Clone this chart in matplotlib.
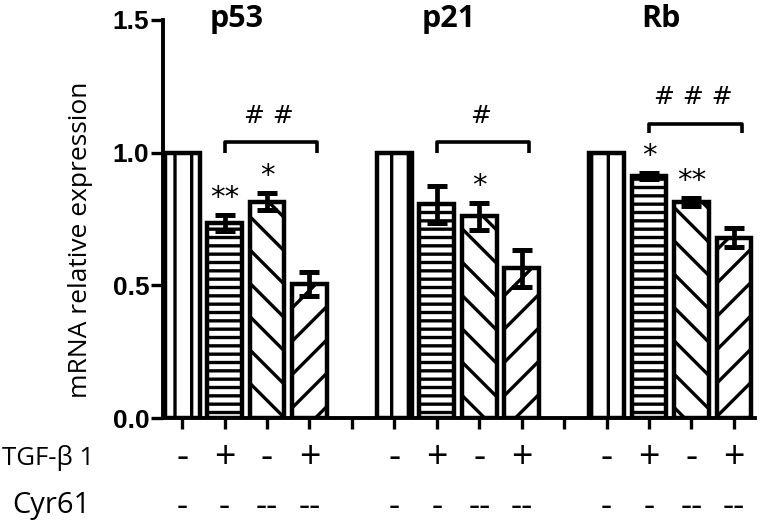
import matplotlib
matplotlib.use("Agg")
import matplotlib.pyplot as plt
from matplotlib.transforms import blended_transform_factory
import numpy as np

genes = ["p53", "p21", "Rb"]
means = {
    "p53": [1.0, 0.735, 0.815, 0.505],
    "p21": [1.0, 0.805, 0.760, 0.565],
    "Rb":  [1.0, 0.912, 0.815, 0.680],
}
errs = {
    "p53": [0.0, 0.030, 0.032, 0.045],
    "p21": [0.0, 0.068, 0.050, 0.070],
    "Rb":  [0.0, 0.012, 0.015, 0.037],
}
stars = {
    "p53": ["", "**", "*", ""],
    "p21": ["", "", "*", ""],
    "Rb":  ["", "*", "**", ""],
}
brackets = {"p53": ("# #", 1.04, 1.0), "p21": ("#", 1.04, 1.0), "Rb": ("# # #", 1.11, 1.075)}
tgf_signs = ["-", "+", "-", "+"]
cyr_signs = ["-", "-", "--", "--"]
yticks = [0.0, 0.5, 1.0, 1.5]
ytick_labels = ["0.0", "0.5", "1.0", "1.5"]
hatches = ["|", "--", "\\", "/"]

plt.rcParams["hatch.linewidth"] = 2.4
fig = plt.figure(figsize=(7.62, 5.26), dpi=100)
ax = fig.add_axes([0.214, 0.205, 0.777, 0.757])

width = 0.82
for g, gene in enumerate(genes):
    base = g * 5
    xs = base + np.arange(4)
    for i in range(4):
        ax.bar(xs[i], means[gene][i], width=width, facecolor="white",
               edgecolor="black", linewidth=3.2, hatch=hatches[i], zorder=2)
        if errs[gene][i] > 0:
            ax.errorbar(xs[i], means[gene][i], yerr=errs[gene][i], fmt="none",
                        ecolor="black", elinewidth=3.4, capsize=7.5, capthick=3.6, zorder=3)
        if stars[gene][i]:
            ax.text(xs[i], means[gene][i] + errs[gene][i] + 0.065, stars[gene][i],
                    ha="center", va="center", fontsize=21, family="DejaVu Sans")
    label, ytop, ybot = brackets[gene]
    x0, x1 = base + 1, base + 3.18
    ax.plot([x0, x0, x1, x1], [ybot, ytop, ytop, ybot], color="black", lw=2.6,
            solid_capstyle="butt", clip_on=False)
    ax.text((x0 + x1) / 2 - 0.05, ytop + 0.1, label, ha="center", va="center",
            fontsize=18, family="DejaVu Sans")
    ax.text(base + 1.28, 1.505, gene, ha="center", va="center", fontsize=22,
            fontweight="bold", family="Open Sans", clip_on=False)

ax.set_xlim(-0.45, 13.5)
ax.set_ylim(0, 1.5)
ax.set_xticks(np.arange(14))
ax.set_xticklabels([])
ax.set_yticks(yticks)
ax.set_yticklabels(ytick_labels, fontsize=19, fontweight="bold", family="Liberation Sans")
ax.tick_params(axis="x", direction="out", length=8, width=2.4)
ax.tick_params(axis="y", direction="out", length=9, width=2.4, pad=1)
for s in ["top", "right"]:
    ax.spines[s].set_visible(False)
ax.spines["left"].set_linewidth(2.8)
ax.spines["bottom"].set_linewidth(2.8)
ax.set_ylabel("mRNA relative expression", fontsize=19, family="Open Sans")
ax.yaxis.set_label_coords(-0.118, 0.447)

trans = blended_transform_factory(ax.transData, fig.transFigure)
for g in range(3):
    for i in range(4):
        x = g * 5 + i
        ax.text(x, 1 - 458 / 526, tgf_signs[i], transform=trans, ha="center", va="center",
                fontsize=27, family="Open Sans")
        ax.text(x, 1 - 507 / 526, cyr_signs[i], transform=trans, ha="center", va="center",
                fontsize=25, family="Open Sans")
fig.text(0.002, 1 - 458 / 526, "TGF-β 1", ha="left", va="center", fontsize=18.5, family="Open Sans")
fig.text(0.016, 1 - 505 / 526, "Cyr61", ha="left", va="center", fontsize=21, family="Open Sans")

fig.savefig("out.png", dpi=100)
